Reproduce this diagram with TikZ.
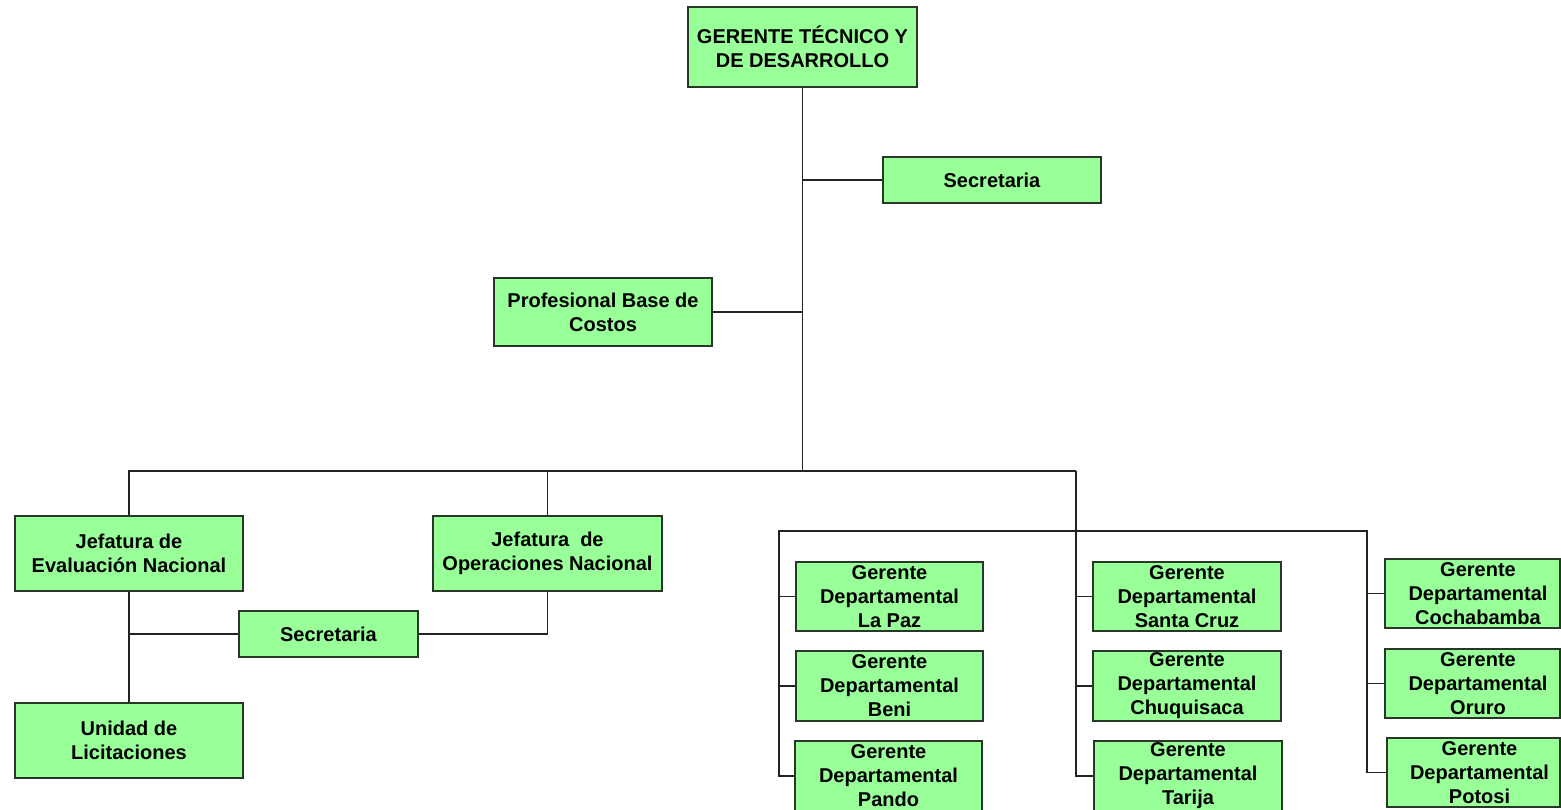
\documentclass[tikz,border=0pt]{standalone}
\usepackage{fontspec}
\setmainfont{Liberation Sans}
\definecolor{boxfill}{RGB}{153,255,153}
\definecolor{boxline}{RGB}{40,55,40}
\definecolor{wire}{RGB}{35,35,35}
\begin{document}
\begin{tikzpicture}[x=1pt,y=-1pt,
  orgfont/.style={align=center,inner sep=0pt,font=\fontsize{20pt}{24pt}\selectfont\bfseries},
  orgbox/.style={orgfont,draw=boxline,fill=boxfill,line width=1.3pt,rectangle},
  wirel/.style={draw=wire,line width=1.3pt}]
\useasboundingbox (0,0) rectangle (1561,809);
\fill[white] (0,0) rectangle (1561,809);
% nodes
\node[orgbox,minimum width=229pt,minimum height=80pt] (top) at (802.5,47) {GERENTE TÉCNICO Y\\DE DESARROLLO};
\node[orgbox,minimum width=218pt,minimum height=46pt] (sec1) at (992,180) {Secretaria};
\node[orgbox,minimum width=218pt,minimum height=68pt] (prof) at (603,312) {Profesional Base de\\Costos};
\node[orgbox,minimum width=228pt,minimum height=75pt] (jeval) at (129,553.5) {Jefatura de\\Evaluación Nacional};
\node[orgbox,minimum width=229pt,minimum height=75pt] (jops) at (547.5,553.5) {Jefatura~~de\\Operaciones Nacional};
\node[orgbox,minimum width=179pt,minimum height=46pt] (sec2) at (328.5,634) {Secretaria};
\node[orgbox,minimum width=228pt,minimum height=75pt] (unidad) at (129,740.5) {Unidad de\\Licitaciones};
\node[orgbox,minimum width=187pt,minimum height=69pt] (lapaz) at (889.5,596.5) {Gerente\\Departamental\\La Paz};
\node[orgbox,minimum width=187pt,minimum height=70pt] (beni) at (889.5,686) {Gerente\\Departamental\\Beni};
\node[orgbox,minimum width=187pt,minimum height=70pt] (pando) at (888.5,776) {Gerente\\Departamental\\Pando};
\node[orgbox,minimum width=188pt,minimum height=69pt] (scruz) at (1187,596.5) {Gerente\\Departamental\\Santa Cruz};
\node[orgbox,minimum width=188pt,minimum height=70pt] (chuq) at (1187,686) {Gerente\\Departamental\\Chuquisaca};
\node[orgbox,minimum width=188pt,minimum height=70pt] (tarija) at (1188,776) {Gerente\\Departamental\\Tarija};
\node[orgbox,minimum width=175pt,minimum height=69pt] (cocha) at (1472.5,593.5) {};
\node[orgfont] (cochat) at ([xshift=5.5pt]cocha.center) {Gerente\\Departamental\\Cochabamba};
\node[orgbox,minimum width=175pt,minimum height=69pt] (oruro) at (1472.5,683.5) {};
\node[orgfont] (orurot) at ([xshift=5.5pt]oruro.center) {Gerente\\Departamental\\Oruro};
\node[orgbox,minimum width=173pt,minimum height=69pt] (potosi) at (1473.5,772.5) {};
\node[orgfont] (potosit) at ([xshift=6pt]potosi.center) {Gerente\\Departamental\\Potosi};
% coordinates
\coordinate (bus) at (803,471);
\coordinate (mv) at (1076,471);
\coordinate (lv) at (779,531);
\coordinate (rv) at (1367,531);
% connectors
\draw[wirel] (top.south) -- (top.south |- bus);
\draw[wirel] (top.south |- sec1.west) -- (sec1.west);
\draw[wirel] (prof.east) -- (top.south |- prof.east);
\draw[wirel] (jeval.north) |- (mv);
\draw[wirel] (jops.north) -- (jops.north |- bus);
\draw[wirel] (mv) -- (mv |- tarija.west) -- (tarija.west);
\draw[wirel] (mv |- scruz.west) -- (scruz.west);
\draw[wirel] (mv |- chuq.west) -- (chuq.west);
\draw[wirel] (pando.west) -| (lv) -- (rv) |- (potosi.west);
\draw[wirel] (lv |- lapaz.west) -- (lapaz.west);
\draw[wirel] (lv |- beni.west) -- (beni.west);
\draw[wirel] (rv |- cocha.west) -- (cocha.west);
\draw[wirel] (rv |- oruro.west) -- (oruro.west);
\draw[wirel] (jeval.south) -- (unidad.north);
\draw[wirel] (jeval.south |- sec2.west) -- (sec2.west);
\draw[wirel] (sec2.east) -| (jops.south);
\end{tikzpicture}
\end{document}
